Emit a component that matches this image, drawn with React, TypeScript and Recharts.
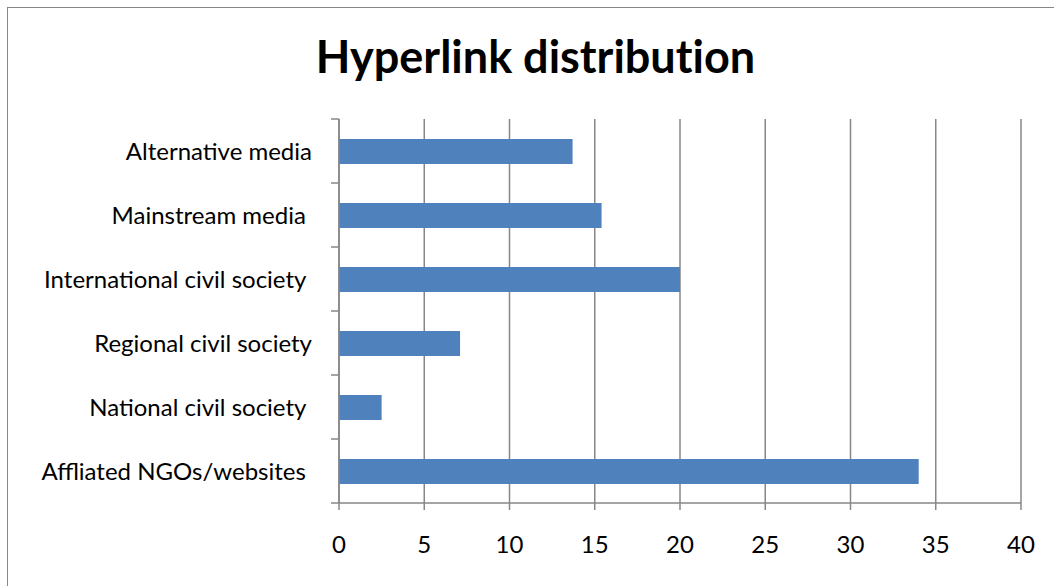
import { BarChart, Bar, XAxis, YAxis, CartesianGrid } from 'recharts';

const categories = [
    'Alternative media',
    'Mainstream media ',
    'International civil society ',
    'Regional civil society',
    'National civil society ',
    'Affliated NGOs/websites ',
];
const hyperlinks = [13.7, 15.4, 20, 7.1, 2.5, 34];
const xTicks = [0, 5, 10, 15, 20, 25, 30, 35, 40];

const data = categories.map((name, i) => ({ name, value: hyperlinks[i] }));

const FONT = 'Lato, "Open Sans", sans-serif';
const GRAY = '#878787';

// category label plus Excel-style tick marks on the band edges
const CategoryTick = ({ x, y, payload, index, visibleTicksCount }: any) => {
    const half = payload.offset || 0;
    const last = index === visibleTicksCount - 1;
    return (
        <g>
            <line x1={x - 8} x2={x} y1={y - half} y2={y - half} stroke={GRAY} strokeWidth={1.5} />
            {last && (
                <line x1={x - 8} x2={x} y1={y + half} y2={y + half} stroke={GRAY} strokeWidth={1.5} />
            )}
            <text
                x={x - 27}
                y={y}
                dy="0.355em"
                textAnchor="end"
                style={{ fontFamily: FONT, fontSize: 24, fill: '#000', whiteSpace: 'pre' }}
            >
                {payload.value}
            </text>
        </g>
    );
};

export default function App() {
    return (
        <div
            style={{
                position: 'absolute',
                left: 0,
                top: 0,
                width: 1054,
                height: 586,
                background: '#fff',
                fontFamily: FONT,
            }}
        >
            <div
                style={{
                    position: 'absolute',
                    left: 7,
                    top: 7,
                    right: 0,
                    bottom: 0,
                    borderTop: `1.5px solid ${GRAY}`,
                    borderLeft: `1.5px solid ${GRAY}`,
                }}
            />
            <svg
                width={1054}
                height={100}
                style={{ position: 'absolute', left: 0, top: 0 }}
            >
                <text
                    x={535.5}
                    y={73}
                    textAnchor="middle"
                    style={{
                        fontFamily: FONT,
                        fontWeight: 700,
                        fontSize: 45,
                        fill: '#000',
                        fontVariantLigatures: 'none',
                    }}
                >
                    Hyperlink distribution
                </text>
            </svg>
            <div style={{ position: 'absolute', left: 0, top: 0 }}>
                <BarChart
                    width={1054}
                    height={586}
                    data={data}
                    layout="vertical"
                    margin={{ top: 119, right: 33, bottom: 0, left: 0 }}
                >
                    <CartesianGrid
                        horizontal={false}
                        stroke={GRAY}
                        strokeWidth={1.5}
                    />
                    <XAxis
                        type="number"
                        domain={[0, 40]}
                        ticks={xTicks}
                        interval={0}
                        height={83}
                        tickSize={7}
                        tickMargin={26}
                        stroke={GRAY}
                        strokeWidth={1.5}
                        tick={{ fill: '#000', fontSize: 24, fontFamily: FONT }}
                    />
                    <YAxis
                        type="category"
                        dataKey="name"
                        width={339}
                        tickLine={false}
                        tickSize={0}
                        tickMargin={0}
                        interval={0}
                        stroke={GRAY}
                        strokeWidth={1.5}
                        tick={<CategoryTick />}
                    />
                    <Bar
                        dataKey="value"
                        fill="#4F81BD"
                        barSize={25}
                        isAnimationActive={false}
                    />
                </BarChart>
            </div>
        </div>
    );
}
